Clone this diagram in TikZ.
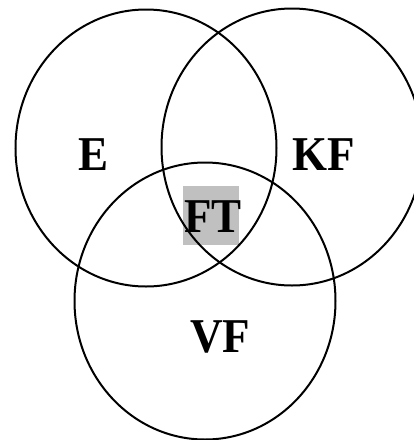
\documentclass[tikz,border=0pt]{standalone}
\usepackage{fontspec}
\setmainfont{Liberation Serif}
\usetikzlibrary{shapes.geometric}
\begin{document}
\begin{tikzpicture}[x=1pt,y=-1pt,
  setcircle/.style={draw=black, line width=2pt, ellipse, inner sep=0pt,
    minimum width=261pt, minimum height=277pt},
  setlabel/.style={inner sep=0pt, anchor=base,
    font=\bfseries\fontsize{45}{50}\selectfont},
  grayfill/.style={fill={rgb,255:red,192;green,192;blue,192}, inner sep=0pt,
    minimum width=56pt, minimum height=59pt}]
\useasboundingbox (0,0) rectangle (414,440);
\clip (0,0) rectangle (414,440);
\node[grayfill] (ftbox) at (211,215.5) {};
\node[setcircle] (cE) at (146,148) {};
\node[setcircle] (cKF) at (292,147) {};
\node[setcircle] (cVF) at (205,301) {};
\node[setlabel] (lE) at (94,170) {\scalebox{1}[1.08]{E}};
\node[setlabel] (lKF) at (324,170) {\scalebox{1}[1.08]{KF}};
\node[setlabel] (lFT) at (213,232) {\scalebox{1}[1.08]{FT}};
\node[setlabel] (lVF) at (220,352) {\scalebox{1}[1.08]{VF}};
\end{tikzpicture}
\end{document}
